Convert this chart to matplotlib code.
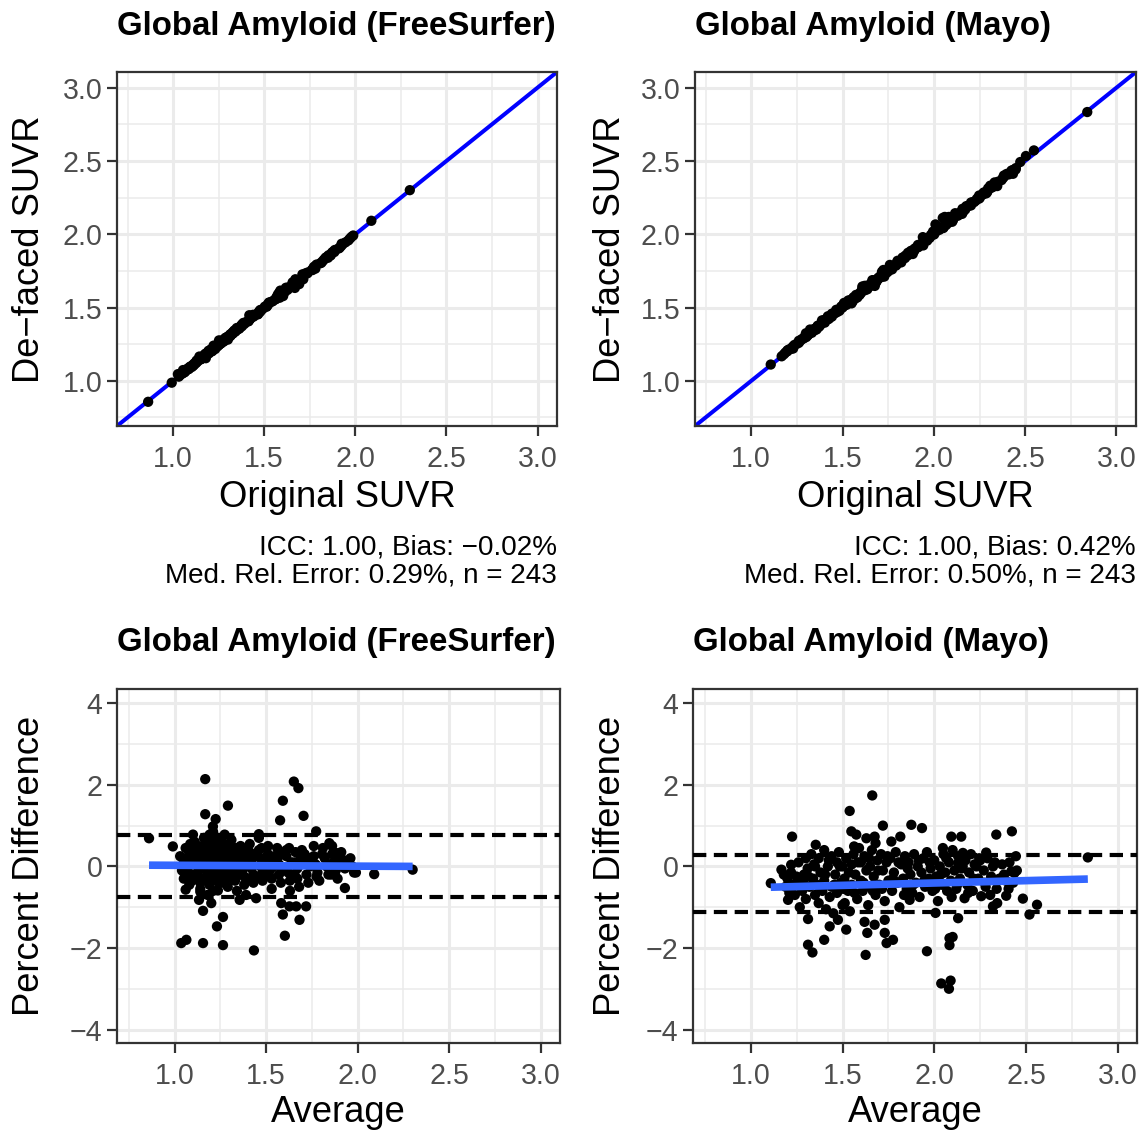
import numpy as np
import matplotlib
matplotlib.use("Agg")
import matplotlib.pyplot as plt
from matplotlib.ticker import MultipleLocator, FormatStrFormatter

plt.rcParams['font.family'] = ['Liberation Sans', 'DejaVu Sans']

# ---- data (average SUVR, percent difference) ----
fs_avg = [0.86, 0.99, 1.167, 1.651, 1.676, 1.591, 1.291, 1.167, 1.224, 1.576,
          1.704, 1.773, 1.46, 2.09, 2.30, 1.93, 1.06, 1.133, 1.155, 1.264,
          1.231, 1.036, 1.064, 1.155, 1.264, 1.433, 1.591, 1.602, 1.682, 1.718,
          1.664, 1.627, 1.582, 1.445, 1.355, 1.2, 1.236, 1.845, 1.882, 1.855,
          1.98, 1.1, 1.191, 1.273, 1.209,
          1.03, 1.04, 1.05, 1.05, 1.06, 1.07, 1.08, 1.08, 1.09, 1.10,
          1.11, 1.11, 1.12, 1.12, 1.13, 1.13, 1.14, 1.14, 1.15, 1.15, 1.15, 1.14,
          1.16, 1.16, 1.17, 1.17, 1.18, 1.18, 1.19, 1.19, 1.20, 1.20, 1.20, 1.17, 1.18,
          1.21, 1.21, 1.22, 1.22, 1.23, 1.23, 1.24, 1.24, 1.25, 1.25, 1.22, 1.21, 1.24,
          1.26, 1.26, 1.27, 1.27, 1.28, 1.28, 1.29, 1.29, 1.30, 1.30,
          1.31, 1.31, 1.32, 1.32, 1.33, 1.33, 1.34, 1.34, 1.35,
          1.36, 1.36, 1.37, 1.37, 1.38, 1.38, 1.39, 1.39,
          1.41, 1.41, 1.42, 1.42, 1.43, 1.43, 1.44,
          1.46, 1.46, 1.47, 1.47, 1.48, 1.48, 1.49,
          1.51, 1.51, 1.52, 1.52, 1.53, 1.53, 1.54,
          1.56, 1.56, 1.57, 1.57, 1.58, 1.59,
          1.61, 1.61, 1.62, 1.62, 1.63, 1.63, 1.64,
          1.66, 1.66, 1.67, 1.67, 1.68, 1.69,
          1.71, 1.71, 1.72, 1.73, 1.74,
          1.76, 1.76, 1.77, 1.78, 1.79,
          1.81, 1.82, 1.83, 1.84,
          1.86, 1.86, 1.87, 1.88, 1.89,
          1.91, 1.92, 1.93,
          1.96, 1.97, 1.99,
          1.065, 1.075, 1.085, 1.095, 1.105, 1.115, 1.125, 1.135, 1.145, 1.155,
          1.165, 1.175, 1.185, 1.195, 1.205, 1.215, 1.225, 1.235, 1.245, 1.255,
          1.265, 1.275, 1.285, 1.295, 1.305, 1.315, 1.325, 1.335, 1.345, 1.355,
          1.375, 1.395, 1.415, 1.445, 1.475, 1.505, 1.545, 1.585, 1.625, 1.655,
          1.695, 1.735, 1.775, 1.805, 1.845, 1.875, 1.905, 1.945]
fs_pdiff = [0.69, 0.49, 2.14, 2.08, 1.92, 1.61, 1.49, 1.28, 1.16, 1.13,
            1.24, 0.86, 0.79, -0.19, -0.08, -0.53, -0.57, -0.82, -1.09, -1.24,
            -1.47, -1.88, -1.80, -1.88, -1.93, -2.06, -1.18, -1.70, -1.31, -0.98,
            -0.98, -0.98, -0.90, -0.78, -0.82, -0.90, -0.59, 0.57, 0.33, -0.2,
            -0.15, 0.78, 0.78, 0.78, 0.98,
            0.25, -0.1, 0.1, -0.3, 0.45, 0.0, -0.45, 0.3, -0.2, 0.15,
            0.6, 0.4, 0.2, 0.05, -0.1, -0.25, -0.4, -0.55, 0.5, 0.3, -0.05, -0.62,
            0.7, 0.5, 0.35, 0.15, 0.0, -0.15, -0.3, -0.45, 0.6, 0.25, -0.1, -0.35, -0.7,
            0.85, 0.6, 0.45, 0.3, 0.1, -0.05, -0.2, -0.4, 0.55, 0.2, -0.3, -0.6, 0.7,
            0.6, 0.4, 0.25, 0.05, -0.1, -0.3, -0.5, 0.5, 0.15, -0.2,
            0.65, 0.35, 0.2, 0.0, -0.15, -0.35, -0.6, 0.45, -0.05,
            0.5, 0.3, 0.1, -0.1, -0.25, -0.45, 0.2, -0.7,
            0.55, 0.35, 0.15, -0.05, -0.2, -0.4, 0.25,
            0.7, 0.4, 0.2, 0.0, -0.15, -0.35, 0.1,
            0.5, 0.3, 0.1, -0.1, -0.3, -0.55, 0.0,
            0.45, 0.2, 0.05, -0.2, -0.4, 0.3,
            0.4, 0.25, 0.0, -0.15, -0.35, -0.6, 0.1,
            0.35, 0.1, -0.05, -0.3, -0.5, 0.2,
            0.3, 0.1, -0.2, -0.4, 0.0,
            0.5, 0.25, 0.05, -0.15, -0.35,
            0.45, 0.2, 0.0, -0.2,
            0.5, 0.3, 0.1, -0.1, -0.3,
            0.35, 0.15, -0.05,
            0.2, 0.0, -0.15,
            0.2, -0.15, 0.55, -0.35, 0.05, -0.2, 0.35, 0.1, -0.3, 0.2,
            -0.05, 0.45, -0.25, 0.1, 0.4, -0.15, 0.05, 0.35, -0.1, 0.3,
            -0.4, 0.15, 0.35, -0.05, 0.25, -0.3, 0.45, 0.1, -0.2, 0.3,
            0.4, -0.3, 0.05, -0.25, 0.45, -0.2, 0.25, -0.05, 0.45, -0.2,
            0.4, 0.2, -0.25, 0.3, 0.05, -0.2, 0.25, 0.05]

mayo_avg = [1.662, 1.539, 1.225, 1.354, 1.72, 1.875, 1.933, 1.548, 1.575, 1.63,
            1.675, 1.68, 1.766, 1.815, 1.563, 2.093, 2.147, 2.047, 2.338, 2.423,
            2.283, 2.837, 1.109, 1.167, 1.22, 1.203, 1.267, 1.312, 1.312, 1.336,
            1.4, 1.43, 1.475, 1.52, 1.512, 1.62, 1.635, 1.626, 1.675, 1.73,
            1.73, 1.775, 1.74, 1.866, 1.96, 2.007, 2.083, 2.1, 2.083, 2.038,
            2.089, 2.08, 2.13, 2.165, 2.256, 2.32, 2.343, 2.392, 2.483, 2.519,
            2.56, 2.42, 2.38, 2.437, 2.32, 2.23, 2.156, 2.13,
            1.18, 1.19, 1.20, 1.21, 1.22, 1.23, 1.24, 1.25,
            1.26, 1.27, 1.28, 1.29, 1.30, 1.30, 1.31, 1.32, 1.33, 1.34, 1.35, 1.35,
            1.36, 1.37, 1.37, 1.38, 1.39, 1.40, 1.40, 1.41, 1.42, 1.43, 1.44, 1.44, 1.45,
            1.46, 1.47, 1.47, 1.48, 1.49, 1.50, 1.50, 1.51, 1.52, 1.53, 1.54, 1.55, 1.55,
            1.56, 1.57, 1.58, 1.59, 1.60, 1.60, 1.61, 1.62, 1.63, 1.64, 1.65, 1.65,
            1.66, 1.67, 1.68, 1.69, 1.70, 1.71, 1.72, 1.73, 1.74, 1.75,
            1.76, 1.77, 1.78, 1.79, 1.80, 1.81, 1.82, 1.83, 1.84, 1.85,
            1.86, 1.87, 1.88, 1.89, 1.90, 1.91, 1.92, 1.93, 1.94, 1.95,
            1.96, 1.97, 1.98, 1.99, 2.00, 2.01, 2.02, 2.03, 2.04, 2.05,
            2.06, 2.07, 2.08, 2.09, 2.10, 2.11, 2.12, 2.13, 2.14, 2.15,
            2.17, 2.18, 2.19, 2.20, 2.21, 2.22, 2.24, 2.25,
            2.27, 2.28, 2.29, 2.31, 2.33, 2.34,
            2.37, 2.39, 2.41, 2.43, 2.45,
            1.315, 1.345, 1.375, 1.405, 1.425, 1.455, 1.485, 1.505, 1.535, 1.565,
            1.585, 1.615, 1.645, 1.665, 1.695, 1.715, 1.745, 1.775, 1.805, 1.835,
            1.855, 1.885, 1.915, 1.945, 1.975, 2.005, 2.035, 2.065, 2.095, 2.125,
            2.155, 2.185, 2.215, 2.245, 2.275, 2.305, 2.355, 2.405, 2.445, 1.285]
mayo_pdiff = [1.74, 1.36, 0.73, 0.53, 1.0, 1.02, 0.94, 0.86, 0.78, 0.69,
              0.73, 0.57, 0.61, 0.73, 0.49, 0.73, 0.73, 0.45, 0.78, 0.86,
              0.34, 0.22, -0.41, -0.08, 0.04, -0.82, -1.0, -1.29, -1.92, -2.11,
              -1.80, -1.47, -1.31, -1.55, -0.90, -1.36, -1.63, -2.17, -1.43, -1.31,
              -1.63, -1.80, -1.88, -0.82, -2.08, -1.14, -1.76, -1.73, -1.93, -2.87,
              -2.80, -3.0, -1.27, -0.78, -0.73, -0.98, -0.90, -0.72, -0.79, -1.18,
              -0.94, -0.12, -0.20, -0.16, 0.0, 0.0, 0.33, 0.08,
              -0.2, -0.5, -0.3, -0.65, -0.15, -0.45, -0.7, -0.25,
              0.1, -0.4, -0.6, -0.2, 0.2, -0.8, -0.05, -0.5, 0.3, -0.3, -0.7, 0.0,
              -0.45, 0.2, -0.9, -0.15, -0.6, 0.4, -0.35, -1.05, 0.0, -0.75, 0.25, -0.5, -1.15,
              -0.2, 0.1, -0.65, 0.35, -0.4, -0.95, 0.0, -0.3, 0.2, -0.6, -1.1, 0.05, -0.45,
              0.3, -0.2, -0.8, 0.45, -0.35, 0.1, -0.6, 0.25, -0.1, -0.95, 0.0, -0.5,
              0.4, -0.25, -0.7, 0.15, -0.45, 0.3, -0.1, -0.85, 0.1, -0.35,
              0.2, -0.6, -0.15, 0.35, -0.4, -1.0, 0.05, -0.3, 0.25, -0.55,
              0.1, -0.2, -0.65, 0.3, -0.4, 0.0, -0.75, -0.15, 0.2, -0.5,
              0.35, -0.3, -0.05, -0.6, 0.15, -0.25, -0.85, 0.0, -0.45, 0.3,
              -0.15, -0.6, 0.1, -0.35, 0.4, -0.1, -0.55, 0.25, -0.3, -0.05,
              0.15, -0.45, -0.15, 0.3, -0.6, 0.05, -0.3, 0.15,
              -0.1, -0.5, 0.2, -0.25, 0.1, -0.55,
              0.05, -0.35, 0.1, -0.4, -0.1,
              -0.25, 0.05, -0.5, -0.2, 0.15, -0.45, 0.0, -0.55, -0.15, -0.65,
              0.1, -0.4, 0.2, -0.6, -0.1, -0.55, 0.25, -0.3, 0.1, -0.7,
              -0.05, -0.45, 0.15, -0.35, 0.1, -0.55, -0.2, 0.2, -0.75, -0.45,
              0.0, -0.65, -0.3, 0.2, -0.4, -0.7, -0.3, -0.55, 0.25, -0.35]

# limits of agreement and regression line ends
fs_loa = [0.78, -0.75]
mayo_loa = [0.29, -1.12]
fs_fit = [0.03, 0.0]
mayo_fit = [-0.51, -0.31]

titles = ["Global Amyloid (FreeSurfer)", "Global Amyloid (Mayo)"]
stats_lines = [["ICC: 1.00, Bias: \u22120.02%", "Med. Rel. Error: 0.29%, n = 243"],
               ["ICC: 1.00, Bias: 0.42%", "Med. Rel. Error: 0.50%, n = 243"]]

W, H = 1147, 1131
fig = plt.figure(figsize=(W / 100, H / 100), dpi=100)

TICK_C = '#4D4D4D'
GRID_C = '#EBEBEB'
TS, AS, LS, TT = 20.6, 20.1, 26.2, 23.8
DOT = 55


def add_px_axes(left, top, right, bottom):
    return fig.add_axes([left / W, 1 - bottom / H, (right - left) / W, (bottom - top) / H])


def style(ax):
    ax.set_facecolor('white')
    ax.grid(True, which='major', color=GRID_C, lw=2.2, zorder=0)
    ax.grid(True, which='minor', color=GRID_C, lw=1.1, zorder=0)
    ax.set_axisbelow(True)
    for s in ax.spines.values():
        s.set_color('#333333')
        s.set_linewidth(1.6)
    ax.tick_params(which='major', length=7, width=1.6, color='#333333',
                   labelsize=TS, labelcolor=TICK_C, pad=3.5)
    ax.tick_params(axis='x', which='major', pad=7)
    ax.tick_params(which='minor', length=0)


def fig_text(x, y, s, **kw):
    fig.text(x / W, 1 - y / H, s, **kw)


boxes_top = [(117, 72, 557, 426), (695, 72, 1136, 426)]
boxes_bot = [(117, 689, 560, 1043), (693, 689, 1137, 1043)]
avgs = [fs_avg, mayo_avg]
pdiffs = [fs_pdiff, mayo_pdiff]
loas = [fs_loa, mayo_loa]
fits = [fs_fit, mayo_fit]
ylab_x = [30, 610]

for i in range(2):
    avg = np.array(avgs[i])
    pd_ = np.array(pdiffs[i])
    orig = avg * (1 + pd_ / 200)
    deface = avg * (1 - pd_ / 200)

    # identity panel
    l, t, r, b = boxes_top[i]
    ax = add_px_axes(l, t, r, b)
    style(ax)
    lims = (0.692, 3.107)
    ax.plot(lims, lims, color='#0000FF', lw=2.9, zorder=2)
    ax.scatter(orig, deface, s=DOT, color='black', edgecolors='none', zorder=3)
    ax.set_xlim(lims)
    ax.set_ylim(lims)
    ax.xaxis.set_major_locator(MultipleLocator(0.5))
    ax.yaxis.set_major_locator(MultipleLocator(0.5))
    ax.xaxis.set_minor_locator(MultipleLocator(0.25))
    ax.yaxis.set_minor_locator(MultipleLocator(0.25))
    ax.xaxis.set_major_formatter(FormatStrFormatter('%.1f'))
    ax.yaxis.set_major_formatter(FormatStrFormatter('%.1f'))
    fig_text(l, 27, titles[i], fontsize=TT, fontweight='bold', ha='left', va='center')
    fig_text((l + r) / 2, 497, "Original SUVR", fontsize=LS, ha='center', va='center')
    fig_text(ylab_x[i], (t + b) / 2, "De\u2212faced SUVR", fontsize=LS, rotation=90,
             ha='center', va='center')
    fig_text(r, 548, stats_lines[i][0], fontsize=AS, ha='right', va='center')
    fig_text(r, 576, stats_lines[i][1], fontsize=AS, ha='right', va='center')

    # Bland-Altman panel
    l, t, r, b = boxes_bot[i]
    ax = add_px_axes(l, t, r, b)
    style(ax)
    ax.scatter(avg, pd_, s=DOT, color='black', edgecolors='none', zorder=3)
    for v in loas[i]:
        ax.axhline(v, color='black', lw=3.0, ls=(0, (3.2, 1.8)), zorder=4)
    ax.plot([avg.min(), avg.max()], fits[i], color='#3366FF', lw=5.5,
            solid_capstyle='butt', zorder=5)
    ax.set_xlim(0.685, 3.105)
    ax.set_ylim(-4.33, 4.35)
    ax.xaxis.set_major_locator(MultipleLocator(0.5))
    ax.xaxis.set_minor_locator(MultipleLocator(0.25))
    ax.yaxis.set_major_locator(MultipleLocator(2))
    ax.yaxis.set_minor_locator(MultipleLocator(1))
    ax.xaxis.set_major_formatter(FormatStrFormatter('%.1f'))
    fig_text(l, 643, titles[i], fontsize=TT, fontweight='bold', ha='left', va='center')
    fig_text((l + r) / 2, 1112, "Average", fontsize=LS, ha='center', va='center')
    fig_text(ylab_x[i], (t + b) / 2, "Percent Difference", fontsize=LS, rotation=90,
             ha='center', va='center')

fig.savefig('out.png', dpi=100, facecolor='white')
